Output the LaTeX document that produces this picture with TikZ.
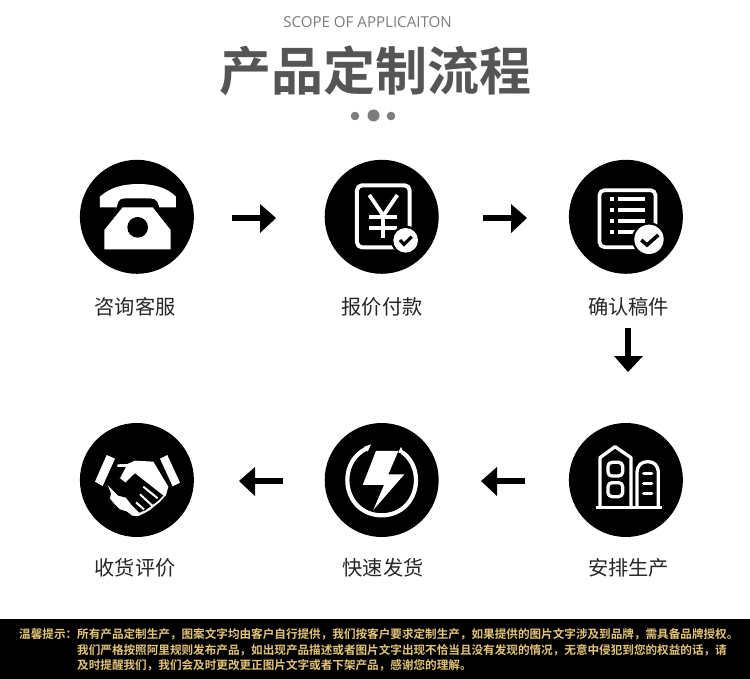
\documentclass[tikz,border=0pt]{standalone}
\usepackage{fontspec}
\setmainfont{Noto Sans CJK SC}
\newfontfamily\cjkbold{Noto Sans CJK SC Bold}
\newfontfamily\latinlight{Open Sans}
\definecolor{titlegrey}{RGB}{85,85,85}
\definecolor{subgrey}{RGB}{125,125,125}
\definecolor{dotgrey}{RGB}{125,125,125}
\definecolor{gold}{RGB}{226,196,118}
\tikzset{
 disc/.style={circle,fill=black,draw=none,minimum size=114pt,inner sep=0pt},
 lab/.style={font=\fontsize{20.2}{20}\selectfont,text=black!85,inner sep=0pt,anchor=center},
 flow/.style={line width=6.4pt,draw=black},
 wl/.style={draw=white,line join=round},
 notice/.style={font=\cjkbold\fontsize{11.6}{11.6}\selectfont,text=gold,inner sep=0pt,anchor=west},
}
\begin{document}
\begin{tikzpicture}[x=1pt,y=-1pt]
\useasboundingbox (0,0) rectangle (750,679);
\fill[white] (0,0) rectangle (750,679);
\node[font=\latinlight\fontsize{15.1}{15.1}\selectfont,text=subgrey,inner sep=0pt] (sub) at (367.5,22.5) {SCOPE OF APPLICAITON};
\node[font=\cjkbold\fontsize{52}{52}\selectfont,text=titlegrey,inner sep=0pt] (ttl) at (375,71) {产品定制流程};
\fill[dotgrey] (355,116) circle (4.3) (373.5,115.5) circle (6) (391,116) circle (4.3);
% discs
\node[disc] (a) at (136.9,216.8) {};
\node[disc] (b) at (381.7,216.8) {};
\node[disc] (c) at (625.9,216.8) {};
\node[disc] (d) at (625.9,480) {};
\node[disc] (e) at (381.7,480) {};
\node[disc] (f) at (136.9,480) {};
% labels
\node[lab] (la) at (135,306.5) {咨询客服};
\node[lab] (lb) at (382,306.5) {报价付款};
\node[lab] (lc) at (628.5,306.5) {确认稿件};
\node[lab] (ld) at (628.5,567.5) {安排生产};
\node[lab] (le) at (383,567.5) {快速发货};
\node[lab] (lf) at (135,567.5) {收货评价};
% phone
\begin{scope}[shift={(60,150)},x=.3333pt,y=-.3333pt]
\fill[white] (120,172) -- (120,140) .. controls (150,112) and (190,102) .. (235,102) .. controls (280,102) and (320,112) .. (348,140) -- (348,172) -- (298,172) -- (292,155) .. controls (288,148) and (280,145) .. (270,145) -- (195,145) .. controls (185,145) and (178,148) .. (175,155) -- (170,172) -- cycle;
\fill[white] (133,298) -- (133,240) -- (188,172) -- (278,172) -- (332,240) -- (332,298) -- cycle;
\fill[black] (233,232) circle (31);
\end{scope}
% yen document
\begin{scope}[shift={(310,150)},x=.3333pt,y=-.3333pt]
\draw[wl,line width=4pt,rounded corners=5pt] (255,292) -- (141,292) -- (141,106) -- (299,106) -- (299,240);
\draw[wl,line width=3.8pt,line join=miter] (178,135) -- (220,197) -- (262,135);
\draw[wl,line width=3.8pt] (220,197) -- (220,264) (178,201) -- (260,201) (178,233) -- (260,233);
\fill[black] (287,271) circle (44);
\fill[white] (287,271) circle (37);
\draw[black,line width=3.2pt] (270,270) -- (282,283) -- (305,260);
\end{scope}
% list document
\begin{scope}[shift={(550,150)},x=.3333pt,y=-.3333pt]
\draw[wl,line width=3.7pt,rounded corners=5pt] (255,291.5) -- (148.5,291.5) -- (148.5,120.5) -- (316.5,120.5) -- (316.5,240);
\foreach \r in {148,181,214,247}{
 \fill[white] (179,\r-6.5) rectangle (193,\r+6.5);
}
\foreach \r in {148,181,214}{
 \fill[white] (205,\r-5.5) rectangle (285,\r+5.5);
}
\fill[white] (205,241.5) rectangle (260,252.5);
\fill[black] (297,268) circle (51);
\fill[white] (297,268) circle (44);
\draw[black,line width=3.6pt] (274,270) -- (291,285) -- (325,255);
\end{scope}
% building
\begin{scope}[shift={(555,415)},x=.3333pt,y=-.3333pt]
\draw[wl,line width=3.3pt,line join=miter] (124,277) -- (320,277);
\draw[wl,line width=3.3pt] (135,277) -- (135,128) -- (180,95) -- (228,128) -- (228,277);
\draw[wl,line width=3.3pt] (246,277) -- (246,175) .. controls (246,150) and (260,140) .. (278,140) .. controls (296,140) and (310,150) .. (310,175) -- (310,277);
\draw[wl,line width=3.3pt,rounded corners=4pt] (159,142) rectangle (203,183);
\draw[wl,line width=3.3pt,rounded corners=4pt] (159,203) rectangle (203,245);
\draw[wl,line width=3.4pt,line cap=round] (266,175) -- (290,175) (266,205) -- (290,205) (266,235) -- (290,235);
\end{scope}
% lightning
\begin{scope}[shift={(315,415)},x=.3333pt,y=-.3333pt]
\draw[white,line width=4.2pt] (152,102) .. controls (120,118) and (97,152) .. (97,195) .. controls (97,255) and (140,301) .. (200,301) .. controls (260,301) and (303,255) .. (303,195) .. controls (303,158) and (285,128) .. (262,112);
\fill[white] (183,108) -- (250,108) -- (220,178) -- (268,178) -- (175,285) -- (207,210) -- (143,210) -- cycle;
\fill[white] (168,88) -- (158,110) -- (146,96) -- cycle;
\fill[white] (258,96) -- (250,112) -- (270,120) -- cycle;
\end{scope}
% handshake
\begin{scope}[shift={(90,445)},x=.3333pt,y=-.3333pt]
\fill[white] (50,30) -- (75,41) -- (38,123) -- (15,110) -- cycle;
\fill[white] (232,30) -- (270,113) -- (248,124) -- (210,41) -- cycle;
\fill[white] (82,58) -- (112,57) -- (135,47) -- (190,50) -- (235,125) -- (228,150) -- (208,172) -- (195,182) -- (180,195) -- (162,205) -- (145,213) -- (127,212) -- (110,199) -- (90,193) -- (73,176) -- (60,161) -- (63,145) -- (53,120) -- (90,100) -- (108,66) -- (82,66) -- cycle;
\fill[black] (50,105) -- (90,100) -- (106,113) -- (135,85) -- (220,152) -- (206,166) -- (188,180) -- (166,196) -- (148,203) -- (125,180) -- (108,158) -- (85,152) -- (53,120) -- cycle;
\draw[white,line width=2pt] (160,125) -- (203,160) (150,148) -- (188,183) (138,172) -- (162,193);
\end{scope}
% connectors
\coordinate (ab1) at (232,218); \coordinate (ab2) at (261,218);
\draw[flow] (ab1) -- (ab2);
\fill[black] (260,204) -- (276,218) -- (260,233) -- cycle;
\coordinate (bc1) at (483,218); \coordinate (bc2) at (512,218);
\draw[flow] (bc1) -- (bc2);
\fill[black] (511,204) -- (527,218) -- (511,233) -- cycle;
\coordinate (cd1) at (628,328); \coordinate (cd2) at (628,357);
\draw[flow] (cd1) -- (cd2);
\fill[black] (614,356) -- (643,356) -- (628,372) -- cycle;
\coordinate (de1) at (525,481); \coordinate (de2) at (496,481);
\draw[flow] (de1) -- (de2);
\fill[black] (497,467) -- (481,481) -- (497,496) -- cycle;
\coordinate (ef1) at (283,481); \coordinate (ef2) at (254,481);
\draw[flow] (ef1) -- (ef2);
\fill[black] (255,467) -- (239,481) -- (255,496) -- cycle;
% footer
\fill[black] (0,619) rectangle (750,679);
\node[notice] (n1) at (19,634) {温馨提示：所有产品定制生产，图案文字均由客户自行提供，我们按客户要求定制生产，如果提供的图片文字涉及到品牌，需具备品牌授权。};
\node[notice] (n2) at (77,650) {我们严格按照阿里规则发布产品，如出现产品描述或者图片文字出现不恰当且没有发现的情况，无意中侵犯到您的权益的话，请};
\node[notice] (n3) at (77,665) {及时提醒我们，我们会及时更改更正图片文字或者下架产品，感谢您的理解。};
\end{tikzpicture}
\end{document}
